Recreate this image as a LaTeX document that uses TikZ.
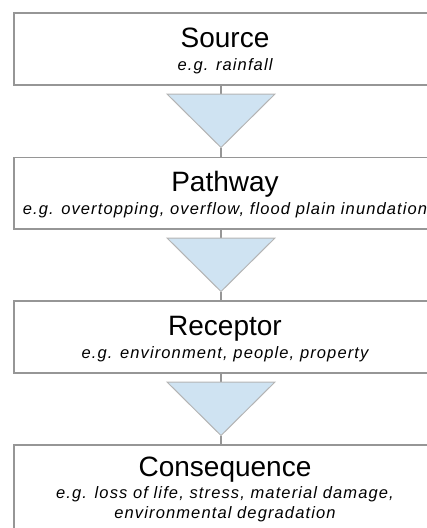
\documentclass[tikz,border=0pt]{standalone}
\usepackage{fontspec}
\setmainfont{Liberation Sans}
\newfontfamily\notefont{Liberation Sans}[LetterSpace=6.8]
\begin{document}
\begin{tikzpicture}[x=1pt,y=-1pt,
  stagebox/.style={draw=boxgray,line width=1.3pt,fill=white,rectangle,minimum width=422pt,inner sep=0pt},
  heading/.style={anchor=base,inner sep=0pt,font=\fontsize{28}{30}\selectfont},
  note/.style={anchor=base,inner sep=0pt,font=\notefont\itshape\fontsize{16.5}{20}\selectfont},
  flowtri/.style={draw=trigray,line width=1pt,fill=triblue,line join=miter},
  link/.style={draw=boxgray,line width=1.3pt}]
\definecolor{boxgray}{HTML}{969696}
\definecolor{trigray}{HTML}{B4B4B4}
\definecolor{triblue}{HTML}{CFE3F2}
\useasboundingbox (0,0) rectangle (427,528);

% stage boxes (right edges run past the page)
\node[stagebox,minimum height=72pt] (source) at (225,49) {};
\node[stagebox,minimum height=71.5pt] (pathway) at (225,193.25) {};
\node[stagebox,minimum height=72pt] (receptor) at (225,337) {};
\node[stagebox,minimum height=100pt] (consequence) at (225,495) {};

% headings and examples
\node[heading] (sourceT) at (225,47) {Source};
\node[note] (sourceN) at (225,70) {e.g. rainfall};
\node[heading] (pathwayT) at (225,191.7) {Pathway};
\node[note] (pathwayN) at (225,214) {e.g. overtopping, overflow, flood plain inundation};
\node[heading] (receptorT) at (225,335.7) {Receptor};
\node[note] (receptorN) at (225,358.3) {e.g. environment, people, property};
\node[heading] (consequenceT) at (225,476.7) {Consequence};
\node[note] (consequenceN1) at (225,498.3) {e.g. loss of life, stress, material damage,};
\node[note] (consequenceN2) at (225,518.3) {environmental degradation};

% flow triangles between stages
\foreach \name/\top in {a/94,b/238,c/382}{
  \coordinate (\name top) at (221,\top);
  \coordinate (\name tip) at (221,\top+53.5);
  \coordinate (\name left) at (167,\top);
  \coordinate (\name right) at (275,\top);
}
\draw[link] (source.south -| atop) -- (atop);
\draw[link] (atip) -- (pathway.north -| atip);
\draw[link] (pathway.south -| btop) -- (btop);
\draw[link] (btip) -- (receptor.north -| btip);
\draw[link] (receptor.south -| ctop) -- (ctop);
\draw[link] (ctip) -- (consequence.north -| ctip);
\draw[flowtri] (aleft) -- (aright) -- (atip) -- cycle;
\draw[flowtri] (bleft) -- (bright) -- (btip) -- cycle;
\draw[flowtri] (cleft) -- (cright) -- (ctip) -- cycle;
\end{tikzpicture}
\end{document}
